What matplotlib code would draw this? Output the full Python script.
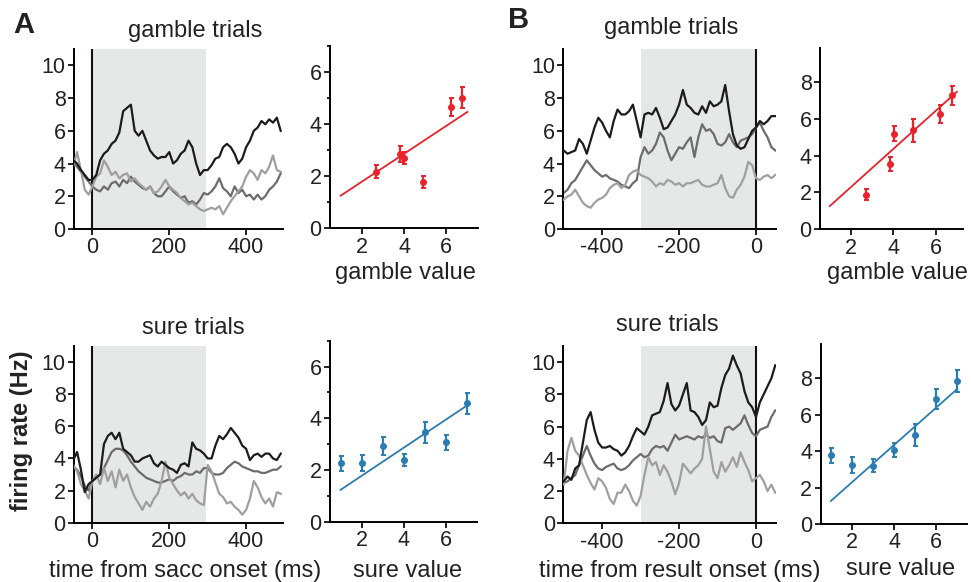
import numpy as np
import matplotlib
matplotlib.use('Agg')
import matplotlib.pyplot as plt
from matplotlib.ticker import MultipleLocator

plt.rcParams['font.family'] = ['Liberation Sans', 'DejaVu Sans']
plt.rcParams['axes.unicode_minus'] = False
plt.rcParams['axes.linewidth'] = 1.4
plt.rcParams['xtick.major.width'] = 1.4
plt.rcParams['ytick.major.width'] = 1.4
plt.rcParams['xtick.minor.width'] = 1.2
plt.rcParams['ytick.minor.width'] = 1.2
plt.rcParams['xtick.major.size'] = 4
plt.rcParams['ytick.major.size'] = 4
plt.rcParams['ytick.minor.size'] = 2.5
plt.rcParams['xtick.labelsize'] = 15.5
plt.rcParams['ytick.labelsize'] = 15.5

# ---------------- data ----------------
t_sacc = np.arange(-50, 491, 10)      # ms from saccade onset
t_result = np.arange(-500, 51, 10)    # ms from result onset

gambleA_high = [4.2, 4.0, 3.6, 3.3, 3.0, 3.0, 3.3, 4.2, 4.6, 4.8,
                5.2, 5.4, 5.9, 7.2, 7.4, 7.6, 6.0, 5.7, 6.0, 5.4,
                4.8, 4.5, 4.3, 4.4, 4.4, 4.7, 4.0, 4.2, 4.6, 4.8,
                5.4, 5.0, 4.0, 3.3, 3.6, 3.6, 3.9, 4.3, 4.4, 5.0,
                5.2, 5.0, 4.6, 4.0, 4.3, 5.0, 5.4, 6.0, 6.2, 6.6,
                6.4, 6.7, 6.5, 6.8, 6.0]
gambleA_mid = [4.1, 3.8, 3.5, 3.2, 2.9, 2.6, 2.4, 2.3, 2.6, 2.4,
               2.8, 2.9, 2.6, 3.0, 2.8, 3.2, 2.9, 2.7, 2.5, 2.4,
               2.6, 2.2, 2.0, 2.0, 2.3, 2.6, 2.3, 2.1, 1.9, 2.0,
               1.6, 1.7, 1.5, 1.8, 2.2, 2.1, 2.3, 2.6, 3.1, 2.5,
               2.3, 2.0, 2.6, 2.2, 2.4, 2.0, 2.1, 1.8, 2.1, 1.8,
               2.0, 2.4, 2.6, 2.9, 3.4]
gambleA_low = [3.8, 4.7, 3.6, 2.4, 2.1, 2.6, 3.2, 3.4, 4.2, 3.8,
               3.3, 3.5, 3.1, 3.3, 3.4, 2.9, 3.1, 2.8, 2.6, 2.4,
               2.6, 2.2, 2.3, 2.6, 3.0, 2.6, 2.4, 2.2, 1.9, 1.7,
               1.5, 1.6, 1.4, 1.2, 1.1, 1.2, 1.3, 1.2, 1.4, 0.9,
               1.3, 1.7, 2.0, 2.3, 2.6, 3.2, 3.6, 3.4, 3.0, 3.6,
               3.4, 3.8, 4.5, 3.6, 3.5]

sureA_high = [3.9, 4.4, 3.3, 1.9, 2.4, 2.6, 2.8, 3.0, 4.9, 5.4,
              5.6, 5.2, 5.6, 4.6, 4.4, 4.2, 3.8, 3.8, 4.0, 4.1,
              4.2, 3.7, 3.5, 3.8, 3.6, 3.4, 3.3, 3.1, 3.6, 3.7,
              3.5, 5.0, 4.6, 4.5, 4.3, 4.0, 4.0, 4.8, 5.4, 5.2,
              5.5, 5.9, 5.6, 5.3, 4.8, 4.6, 3.9, 4.2, 4.3, 4.1,
              4.3, 4.3, 4.0, 3.9, 4.3]
sureA_mid = [3.5, 3.3, 2.9, 2.3, 2.0, 2.6, 2.8, 3.0, 3.4, 3.9,
             4.4, 4.6, 4.6, 4.5, 4.2, 3.8, 3.5, 3.2, 3.0, 2.8,
             2.7, 2.6, 2.5, 2.5, 2.6, 2.7, 2.6, 2.8, 2.9, 3.1,
             3.0, 3.0, 3.2, 3.1, 3.4, 3.4, 3.1, 3.0, 3.0, 3.1,
             3.4, 3.6, 3.8, 3.7, 3.5, 3.4, 3.3, 3.2, 3.2, 3.1,
             3.1, 3.2, 3.3, 3.3, 3.5]
sureA_low = [3.6, 3.2, 2.4, 2.0, 1.5, 2.6, 3.0, 2.4, 3.4, 2.6,
             3.2, 2.2, 3.3, 2.6, 3.0, 2.2, 1.6, 1.2, 0.8, 1.3,
             1.0, 1.5, 1.8, 2.6, 3.8, 2.8, 2.4, 2.0, 1.7, 1.9,
             1.5, 1.8, 1.4, 1.2, 1.1, 3.6, 3.2, 2.5, 1.8, 1.6,
             1.2, 1.3, 1.0, 0.8, 0.5, 0.8, 1.5, 2.6, 2.2, 1.6,
             1.2, 1.5, 1.0, 1.9, 1.8]

gambleB_high = [4.8, 4.6, 4.7, 4.8, 5.5, 5.2, 4.6, 5.4, 6.2, 6.8,
                6.5, 6.0, 5.6, 6.6, 7.3, 7.0, 7.0, 7.2, 7.6, 6.6,
                5.6, 7.0, 7.1, 7.0, 7.4, 6.8, 6.1, 6.2, 6.6, 7.0,
                7.6, 8.5, 7.6, 7.4, 7.1, 7.0, 7.5, 7.1, 7.8, 7.5,
                7.6, 7.8, 8.8, 7.2, 5.8, 5.1, 4.9, 5.0, 5.5, 6.0,
                6.2, 6.6, 6.4, 6.6, 6.9, 6.9]
gambleB_mid = [2.2, 2.4, 2.8, 3.0, 3.4, 3.8, 4.2, 3.9, 3.6, 3.4,
               3.2, 3.3, 3.1, 3.0, 2.9, 2.7, 2.6, 2.5, 2.8, 3.0,
               4.4, 5.0, 4.6, 4.8, 5.2, 5.9, 5.6, 4.8, 4.2, 4.6,
               5.0, 4.9, 5.3, 5.6, 4.4, 5.6, 6.4, 6.0, 6.1, 5.8,
               5.2, 5.1, 5.3, 5.8, 5.3, 5.0, 5.4, 5.5, 5.6, 5.8,
               6.2, 6.5, 6.0, 5.6, 5.0, 4.8]
gambleB_low = [1.8, 2.0, 2.1, 2.4, 2.0, 1.6, 1.4, 1.3, 1.6, 1.8,
               1.9, 2.1, 2.5, 2.7, 2.8, 2.5, 2.7, 3.3, 3.5, 3.6,
               3.3, 3.2, 3.1, 2.9, 2.6, 2.8, 2.7, 3.0, 2.9, 2.7,
               2.8, 2.6, 2.8, 2.8, 2.9, 3.0, 2.7, 2.6, 2.6, 2.7,
               2.8, 3.3, 2.5, 2.0, 1.9, 2.4, 2.7, 3.2, 4.1, 3.9,
               3.1, 3.0, 3.2, 3.3, 3.1, 3.3]

sureB_high = [2.6, 2.9, 2.7, 3.4, 3.6, 5.0, 6.4, 6.9, 5.8, 5.0,
              4.7, 4.7, 4.8, 4.6, 4.5, 4.2, 4.4, 4.8, 5.4, 5.9,
              5.7, 5.5, 6.0, 6.7, 6.8, 6.9, 7.6, 8.7, 7.4, 7.0,
              7.3, 8.0, 8.7, 7.0, 6.9, 6.6, 6.1, 6.4, 7.5, 7.2,
              7.3, 8.4, 9.2, 9.6, 10.4, 9.8, 9.3, 8.2, 7.5, 7.2,
              6.6, 7.5, 8.0, 8.5, 9.0, 9.8]
sureB_mid = [2.5, 2.6, 2.8, 3.0, 3.6, 4.2, 4.8, 4.2, 3.7, 3.4,
             3.3, 3.5, 3.6, 3.7, 3.4, 3.3, 3.4, 3.6, 3.9, 4.1,
             4.3, 4.1, 4.2, 4.6, 4.8, 4.7, 4.8, 4.5, 5.0, 5.5,
             5.2, 5.3, 5.4, 5.3, 5.2, 5.4, 5.3, 5.5, 5.3, 5.4,
             5.1, 5.0, 5.9, 6.0, 5.8, 6.0, 6.2, 6.7, 6.1, 5.6,
             5.4, 5.8, 5.9, 6.0, 6.6, 7.0]
sureB_low = [2.4, 4.5, 5.3, 4.5, 4.2, 3.6, 3.0, 2.5, 2.1, 2.8,
             2.6, 2.2, 1.5, 1.2, 1.9, 1.9, 2.4, 2.0, 1.4, 1.1,
             1.7, 3.0, 4.1, 3.6, 3.8, 3.0, 3.6, 3.2, 2.6, 1.8,
             2.5, 3.7, 3.4, 3.1, 3.4, 3.6, 4.0, 6.0, 4.6, 3.2,
             2.8, 3.8, 3.2, 3.6, 4.1, 3.5, 4.4, 3.8, 3.3, 2.6,
             2.8, 3.0, 2.6, 2.0, 2.4, 1.9]

gA_x = [2.66, 3.82, 4.02, 4.90, 6.20, 6.75]
gA_y = [2.18, 2.85, 2.69, 1.79, 4.65, 5.02]
gA_err = [0.25, 0.30, 0.23, 0.23, 0.35, 0.40]
gA_fit = [1.25, 4.47]

gB_x = [2.69, 3.84, 4.05, 4.93, 6.20, 6.75]
gB_y = [1.87, 3.55, 5.19, 5.37, 6.27, 7.27]
gB_err = [0.30, 0.37, 0.40, 0.60, 0.50, 0.50]
gB_fit = [1.26, 7.47]

sure_x = [1, 2, 3, 4, 5, 6, 7]
sA_y = [2.26, 2.28, 2.93, 2.39, 3.46, 3.07, 4.58]
sA_err = [0.30, 0.30, 0.34, 0.23, 0.40, 0.30, 0.40]
sA_fit = [1.23, 4.48]

sB_y = [3.77, 3.23, 3.19, 4.05, 4.90, 6.85, 7.84]
sB_err = [0.42, 0.42, 0.35, 0.40, 0.60, 0.55, 0.60]
sB_fit = [1.26, 7.40]

fit_x = [1, 7]

# ---------------- styling ----------------
C_HIGH = '#1c1c1c'
C_MID = '#6c6c6c'
C_LOW = '#9f9f9f'
SHADE = '#e6e7e7'
RED = '#e8232b'
BLUE = '#2a7db3'
FS = 17

W, H = 971, 582
fig = plt.figure(figsize=(W / 100, H / 100), dpi=100)


def ax_px(l, t, r, b):
    return fig.add_axes([l / W, 1 - b / H, (r - l) / W, (b - t) / H])


def style(ax):
    for s in ('top', 'right'):
        ax.spines[s].set_visible(False)
    ax.tick_params(direction='out', colors='#222222', labelcolor='#222222', pad=2)


def trace_panel(ax, t, hi, mid, lo, xlim, shade, ticks):
    ax.axvspan(shade[0], shade[1], color=SHADE, lw=0, zorder=0)
    ax.axvline(0, color='#111111', lw=1.5, zorder=1)
    ax.plot(t, mid, color=C_MID, lw=1.6, zorder=2)
    ax.plot(t, lo, color=C_LOW, lw=1.6, zorder=3)
    ax.plot(t, hi, color=C_HIGH, lw=1.6, zorder=4)
    ax.set_xlim(*xlim)
    ax.set_ylim(0, 11)
    ax.set_yticks([0, 2, 4, 6, 8, 10])
    ax.set_xticks(ticks)
    style(ax)


def scatter_panel(ax, x, y, err, fit, color, xlim, ylim, yticks, minor):
    ax.plot(fit_x, fit, color=color, lw=1.3, zorder=2)
    ax.errorbar(x, y, yerr=err, fmt='o', color=color, ms=4, elinewidth=1.6,
                capsize=1.8, capthick=1.4, zorder=3)
    ax.set_xlim(*xlim)
    ax.set_ylim(*ylim)
    ax.set_xticks([2, 4, 6])
    ax.set_yticks(yticks)
    if minor:
        ax.yaxis.set_minor_locator(MultipleLocator(1))
    style(ax)


axA1 = ax_px(74, 49, 283, 229)
trace_panel(axA1, t_sacc, gambleA_high, gambleA_mid, gambleA_low, (-48, 496), (0, 296), [0, 200, 400])
axA3 = ax_px(74, 346, 283, 522.7)
trace_panel(axA3, t_sacc, sureA_high, sureA_mid, sureA_low, (-48, 496), (0, 296), [0, 200, 400])

axB1 = ax_px(563.3, 49, 776, 229)
trace_panel(axB1, t_result, gambleB_high, gambleB_mid, gambleB_low, (-501, 52), (-298, 0), [-400, -200, 0])
axB3 = ax_px(563.3, 346, 776, 523.3)
trace_panel(axB3, t_result, sureB_high, sureB_mid, sureB_low, (-501, 52), (-298, 0), [-400, -200, 0])

axA2 = ax_px(330, 46, 478, 228.3)
scatter_panel(axA2, gA_x, gA_y, gA_err, gA_fit, RED, (0.5, 7.5), (0, 7), [0, 2, 4, 6], True)
axA4 = ax_px(330, 340.7, 477, 521.7)
scatter_panel(axA4, sure_x, sA_y, sA_err, sA_fit, BLUE, (0.5, 7.5), (0, 7), [0, 2, 4, 6], True)

axB2 = ax_px(820, 48, 963, 229.3)
scatter_panel(axB2, gB_x, gB_y, gB_err, gB_fit, RED, (0.54, 7.29), (0, 9.85), [0, 2, 4, 6, 8], False)
axB4 = ax_px(820.7, 344.3, 966.7, 524)
scatter_panel(axB4, sure_x, sB_y, sB_err, sB_fit, BLUE, (0.52, 7.45), (0, 9.85), [0, 2, 4, 6, 8], False)


def ftext(x, y, s, **kw):
    fig.text(x / W, 1 - y / H, s, fontsize=kw.pop('fontsize', FS), color='#222222', **kw)


ftext(195, 37.5, 'gamble trials', ha='center', va='baseline')
ftext(671.5, 34.3, 'gamble trials', ha='center', va='baseline')
ftext(193, 334.3, 'sure trials', ha='center', va='baseline')
ftext(667.5, 331, 'sure trials', ha='center', va='baseline')

ftext(405, 279, 'gamble value', ha='center', va='baseline')
ftext(897.5, 279.3, 'gamble value', ha='center', va='baseline')
ftext(408, 576.7, 'sure value', ha='center', va='baseline')
ftext(900.5, 575, 'sure value', ha='center', va='baseline')
ftext(185, 577, 'time from sacc onset (ms)', ha='center', va='baseline')
ftext(679.5, 577, 'time from result onset (ms)', ha='center', va='baseline')

ftext(13, 33.3, 'A', ha='left', va='baseline', fontsize=21, fontweight='bold')
ftext(508, 28, 'B', ha='left', va='baseline', fontsize=21, fontweight='bold')
ftext(22, 431, 'firing rate (Hz)', ha='center', va='center', rotation=90,
      fontsize=17, fontweight='bold')

fig.savefig('out.png', dpi=100)
